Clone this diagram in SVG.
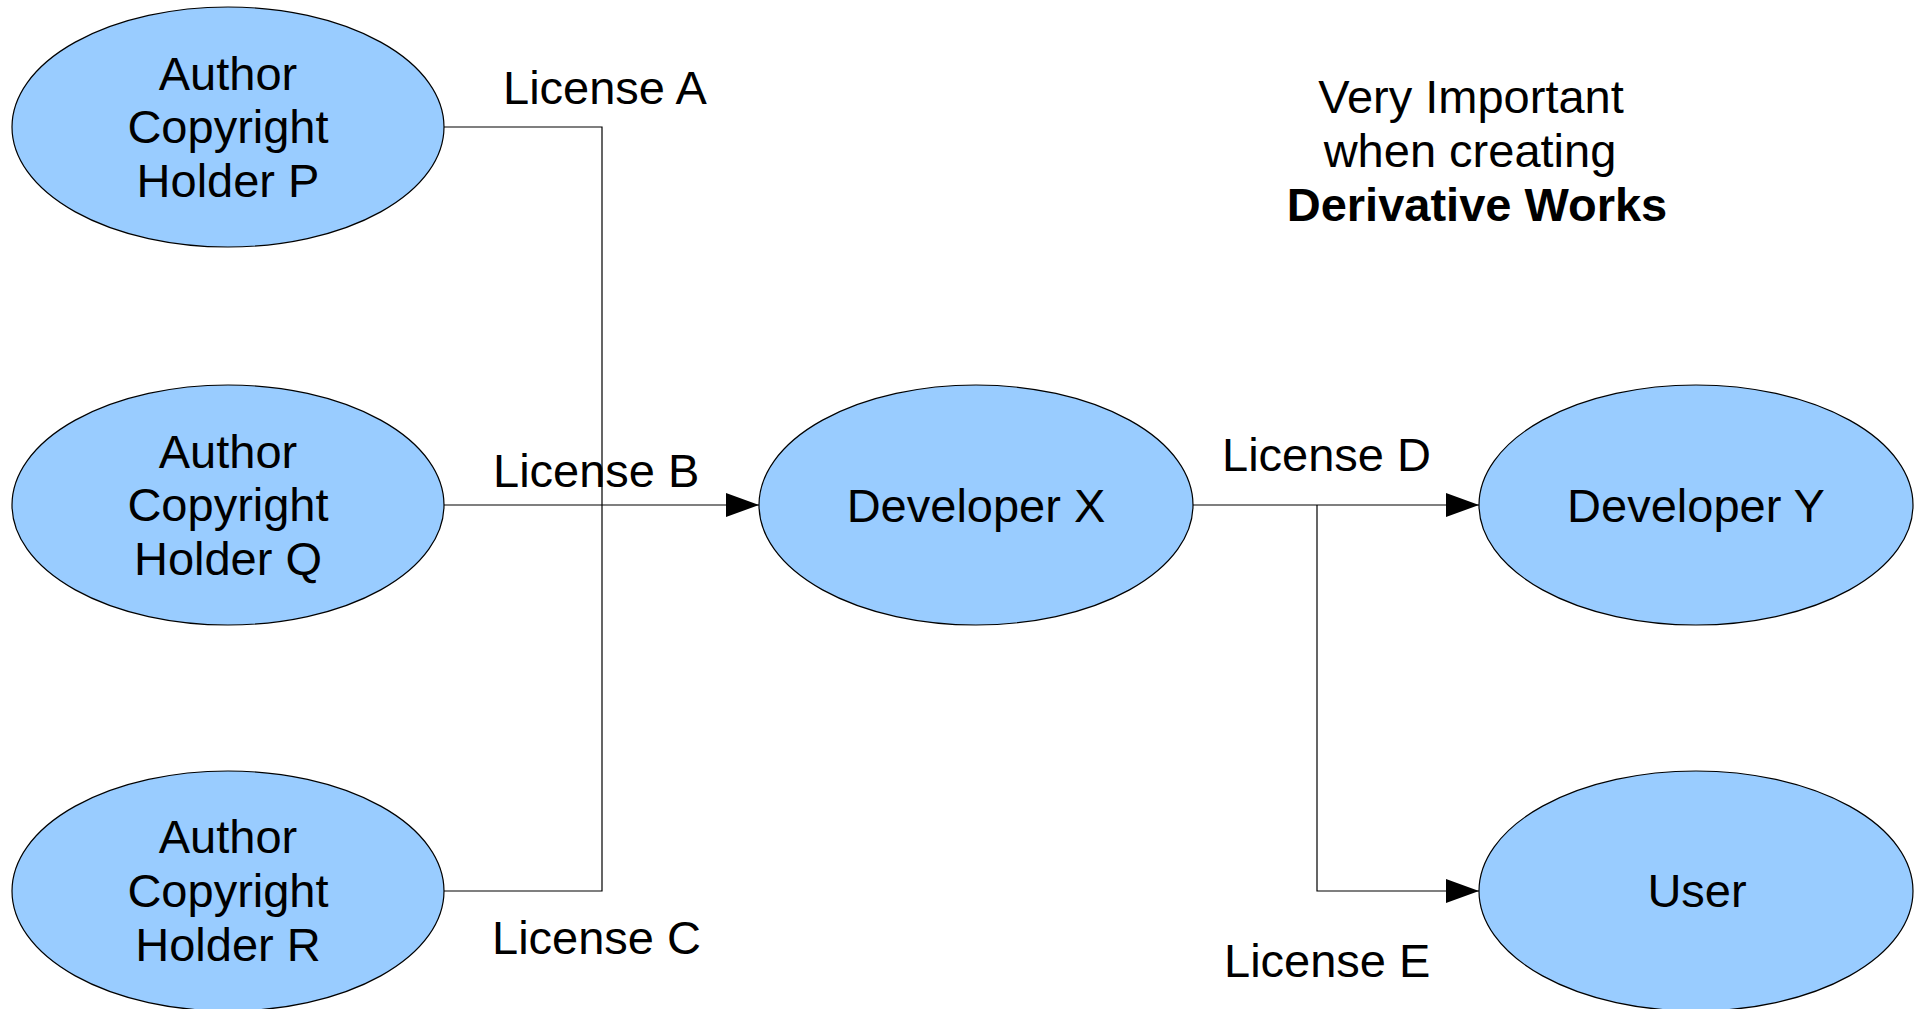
<svg xmlns="http://www.w3.org/2000/svg" width="1922" height="1009" viewBox="0 0 1922 1009">
<style>
.node ellipse{fill:#99ccff;stroke:#000;stroke-width:1.2}
text{font-family:"Liberation Sans",Arial,sans-serif;font-size:47px;fill:#000;text-anchor:middle}
.lbl{text-anchor:start}
.conn{fill:none;stroke:#000;stroke-width:1.2}
</style>
<defs>
<marker id="arr" markerUnits="userSpaceOnUse" markerWidth="34" markerHeight="24" refX="33" refY="12" orient="auto">
<path d="M0,0 L33,12 L0,24 Z" fill="#000"/>
</marker>
</defs>
<rect width="1922" height="1009" fill="#fff"/>
<g id="connectors">
<path class="conn" d="M444,127 H602 V891 H444"/>
<path class="conn" d="M444,505 H759" marker-end="url(#arr)"/>
<path class="conn" d="M1192,505 H1479" marker-end="url(#arr)"/>
<path class="conn" d="M1317,505 V891 H1479" marker-end="url(#arr)"/>
<text class="lbl" x="503" y="104">License A</text>
<text class="lbl" x="493" y="487">License B</text>
<text class="lbl" x="492" y="954">License C</text>
<text class="lbl" x="1222" y="471">License D</text>
<text class="lbl" x="1224" y="977">License E</text>
</g>
<g id="nodeP" class="node">
<ellipse cx="228" cy="127" rx="216" ry="120"/>
<text x="228" y="90">Author</text>
<text x="228" y="143">Copyright</text>
<text x="228" y="197">Holder P</text>
</g>
<g id="nodeQ" class="node">
<ellipse cx="228" cy="505" rx="216" ry="120"/>
<text x="228" y="468">Author</text>
<text x="228" y="521">Copyright</text>
<text x="228" y="575">Holder Q</text>
</g>
<g id="nodeR" class="node">
<ellipse cx="228" cy="891" rx="216" ry="120"/>
<text x="228" y="853">Author</text>
<text x="228" y="907">Copyright</text>
<text x="228" y="961">Holder R</text>
</g>
<g id="devX" class="node">
<ellipse cx="976" cy="505" rx="217" ry="120"/>
<text x="976" y="522">Developer X</text>
</g>
<g id="devY" class="node">
<ellipse cx="1696" cy="505" rx="217" ry="120"/>
<text x="1696" y="522">Developer Y</text>
</g>
<g id="user" class="node">
<ellipse cx="1696" cy="891" rx="217" ry="120"/>
<text x="1697" y="907">User</text>
</g>
<g id="note">
<text x="1471" y="113">Very Important</text>
<text x="1470" y="167">when creating</text>
<text x="1477" y="221" font-weight="bold" font-size="45">Derivative Works</text>
</g>
</svg>
